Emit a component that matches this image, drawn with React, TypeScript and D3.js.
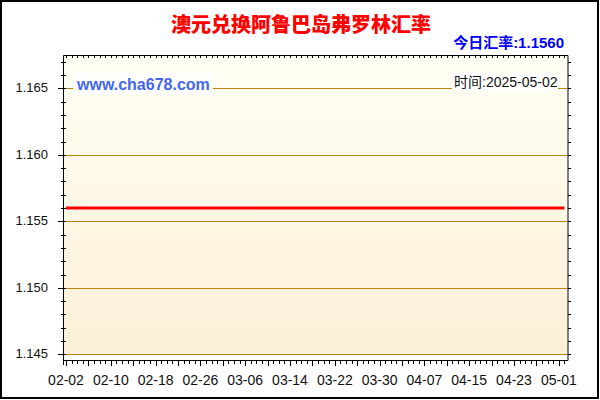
import React from 'react';
import * as d3 from 'd3';

const TITLE = '澳元兑换阿鲁巴岛弗罗林汇率';
const TODAY_LABEL = '今日汇率:1.1560';
const SITE = 'www.cha678.com';
const TIME_LABEL = '时间:2025-05-02';

// sampled days of the series (rate stayed flat over the period)
const dates = [
  '2025-02-02', '2025-02-10', '2025-02-18', '2025-02-26', '2025-03-06', '2025-03-14',
  '2025-03-22', '2025-03-30', '2025-04-07', '2025-04-15', '2025-04-23', '2025-05-01', '2025-05-02',
];
const rates = [
  1.156, 1.156, 1.156, 1.156, 1.156, 1.156, 1.156, 1.156, 1.156, 1.156, 1.156, 1.156, 1.156,
];

const xTickLabels = ['02-02', '02-10', '02-18', '02-26', '03-06', '03-14', '03-22', '03-30', '04-07', '04-15', '04-23', '05-01'];
const yTickLabels = [1.145, 1.15, 1.155, 1.16, 1.165];

const W = 600;
const H = 400;
const plot = { left: 64, right: 567.5, top: 56, bottom: 355 };
const axisY = 360.5;
const grid = '#b8860b';
const latin = '"Liberation Sans", Arial, "Noto Sans CJK SC", sans-serif';
const cjk = '"Noto Sans CJK SC", "Liberation Sans", sans-serif';

const parse = d3.utcParse('%Y-%m-%d');

export default function App() {
  const start = parse(dates[0]) as Date;
  const end = parse(dates[dates.length - 1]) as Date;

  const x = d3.scaleUtc().domain([start, end]).range([66, 564.4]);
  const y = d3.scaleLinear().domain([1.145, 1.165]).range([354.3, 88.3]);

  const days = d3.utcDay.range(start, d3.utcDay.offset(end, 1));
  const minorY = d3.scaleLinear().domain([1.145, 1.167]).ticks(22);

  const points = dates.map((d, i) => ({ date: parse(d) as Date, value: rates[i] }));
  const line = d3
    .line<{ date: Date; value: number }>()
    .x((d) => x(d.date))
    .y((d) => y(d.value));

  return (
    <svg
      width={W}
      height={H}
      style={{ position: 'fixed', left: 0, top: 0, background: '#fff' }}
    >
      <defs>
        <linearGradient id="bg" x1="0" y1="0" x2="0" y2="1">
          <stop offset="0%" stopColor="#fffff4" />
          <stop offset="100%" stopColor="#fcefd6" />
        </linearGradient>
      </defs>

      <rect x={1} y={1} width={W - 3} height={H - 3} fill="#fff" stroke="#000" strokeWidth={2} />

      <text
        x={301}
        y={32}
        textAnchor="middle"
        fontFamily={cjk}
        fontWeight={900}
        fontSize={20}
        fill="#ff0000"
      >
        {TITLE}
      </text>
      <text
        x={564}
        y={48}
        textAnchor="end"
        fontFamily={latin}
        fontWeight="bold"
        fontSize={15}
        fill="#0000ff"
      >
        {TODAY_LABEL}
      </text>

      {/* plot background */}
      <rect
        x={plot.left}
        y={plot.top}
        width={plot.right - plot.left}
        height={plot.bottom - plot.top}
        fill="url(#bg)"
      />

      {/* horizontal grid */}
      {yTickLabels.map((v) => (
        <line
          key={v}
          x1={plot.left}
          x2={plot.right}
          y1={Math.round(y(v)) + 0.5}
          y2={Math.round(y(v)) + 0.5}
          stroke={grid}
          strokeWidth={1}
        />
      ))}

      {/* overlay labels with white boxes */}
      <rect x={73} y={73} width={140} height={22} fill="#fff" />
      <text x={77} y={90} fontFamily={latin} fontWeight="bold" fontSize={16} fill="#4466ee">
        {SITE}
      </text>
      <rect x={452} y={73} width={106} height={18} fill="#fff" />
      <text x={454} y={87} fontFamily={latin} fontSize={14} fill="#111">
        {TIME_LABEL}
      </text>

      {/* series */}
      <path d={line(points) || ''} fill="none" stroke="#ff0000" strokeWidth={3} />

      {/* frame: top and right */}
      <line x1={plot.left - 0.5} x2={plot.right + 0.5} y1={55.5} y2={55.5} stroke="#000" />
      <line x1={plot.right + 0.5} x2={plot.right + 0.5} y1={55.5} y2={axisY} stroke="#000" />
      {days.map((d, i) => (
        <line
          key={'t' + i}
          x1={Math.round(x(d)) + 0.5}
          x2={Math.round(x(d)) + 0.5}
          y1={55.5}
          y2={58}
          stroke="#000"
        />
      ))}
      {minorY.map((v, i) => (
        <line
          key={'r' + i}
          x1={plot.right + 0.5}
          x2={plot.right + 3.5}
          y1={Math.round(y(v)) + 0.5}
          y2={Math.round(y(v)) + 0.5}
          stroke="#000"
        />
      ))}

      {/* left axis */}
      <line x1={63.5} x2={63.5} y1={55.5} y2={365} stroke="#000" />
      {minorY.map((v, i) => {
        const major = yTickLabels.some((t) => Math.abs(t - v) < 1e-9);
        const yy = Math.round(y(v)) + 0.5;
        return (
          <line key={'l' + i} x1={major ? 58 : 61} x2={66} y1={yy} y2={yy} stroke="#000" />
        );
      })}
      {yTickLabels.map((v) => (
        <text
          key={'yl' + v}
          x={48}
          y={y(v)}
          dy="0.3em"
          textAnchor="end"
          fontFamily={latin}
          fontSize={13}
          fill="#111"
        >
          {v.toFixed(3)}
        </text>
      ))}

      {/* bottom axis */}
      <line x1={63} x2={568} y1={axisY} y2={axisY} stroke="#000" />
      {days.map((d, i) => (
        <line
          key={'b' + i}
          x1={Math.round(x(d)) + 0.5}
          x2={Math.round(x(d)) + 0.5}
          y1={axisY}
          y2={i % 4 === 0 ? 366 : 364}
          stroke="#000"
        />
      ))}
      {xTickLabels.map((t) => (
        <text
          key={t}
          x={x(parse('2025-' + t) as Date)}
          y={385}
          textAnchor="middle"
          fontFamily={latin}
          fontSize={14}
          fill="#111"
        >
          {t}
        </text>
      ))}
    </svg>
  );
}
